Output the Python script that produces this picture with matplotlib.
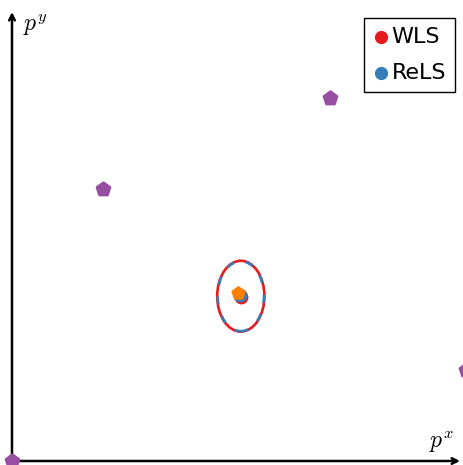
import matplotlib
matplotlib.use("Agg")
import matplotlib.pyplot as plt
from matplotlib.patches import Ellipse

plt.rcParams['mathtext.fontset'] = 'cm'

# anchors (purple pentagons)
anchor_x = [0.0, 2.0, 7.0, 10.0]
anchor_y = [0.0, 6.0, 8.0, 2.0]

# estimates
wls_xy = (5.04, 3.61)
rels_xy = (5.02, 3.66)
true_xy = (4.98, 3.70)

# covariance ellipses (center, width, height)
wls_ell = ((5.04, 3.63), 1.04, 1.56)
rels_ell = ((5.04, 3.63), 1.02, 1.54)

red = '#e41a1c'
blue = '#377eb8'
orange = '#ff7f00'
purple = '#984ea3'

fig = plt.figure(figsize=(4.64, 4.65), dpi=100)
ax = fig.add_axes([0, 0, 1, 1])
ax.set_xlim(-0.264, 9.956)
ax.set_ylim(-0.088, 10.154)
ax.axis('off')

# axes arrows
ax.annotate('', xy=(9.93, 0), xytext=(0, 0),
            arrowprops=dict(arrowstyle='->', lw=1.8, color='black'))
ax.annotate('', xy=(0, 9.95), xytext=(0, 0),
            arrowprops=dict(arrowstyle='->', lw=1.8, color='black'))
ax.text(9.45, 0.42, r'$p^x$', fontsize=17, ha='center', va='center')
ax.text(0.5, 9.6, r'$p^y$', fontsize=17, ha='center', va='center')

ax.scatter(anchor_x, anchor_y, marker='p', s=100, color=purple,
           edgecolors=purple, linewidths=1.8, zorder=3)

e1 = Ellipse(wls_ell[0], wls_ell[1], wls_ell[2], fill=False, ec=red, lw=1.9, zorder=4)
e2 = Ellipse(rels_ell[0], rels_ell[1], rels_ell[2], fill=False, ec=blue, lw=1.9,
             ls=(0, (3, 4.5)), zorder=5)
ax.add_patch(e1)
ax.add_patch(e2)

ax.scatter([wls_xy[0]], [wls_xy[1]], s=80, color=red, zorder=6, label='WLS')
ax.scatter([rels_xy[0]], [rels_xy[1]], s=80, color=blue, zorder=7, label='ReLS')
ax.scatter([true_xy[0]], [true_xy[1]], marker='p', s=90, color=orange,
           edgecolors=orange, linewidths=1.2, zorder=8)

leg = ax.legend(loc='upper right', bbox_to_anchor=(0.9806, 0.961), fontsize=16,
                frameon=True, fancybox=False, edgecolor='black', framealpha=1,
                handletextpad=0.1, handlelength=0.75, borderpad=0.4,
                borderaxespad=0, labelspacing=0.72, markerscale=0.95)
leg.get_frame().set_linewidth(1.0)

fig.savefig('out.png', dpi=100)
